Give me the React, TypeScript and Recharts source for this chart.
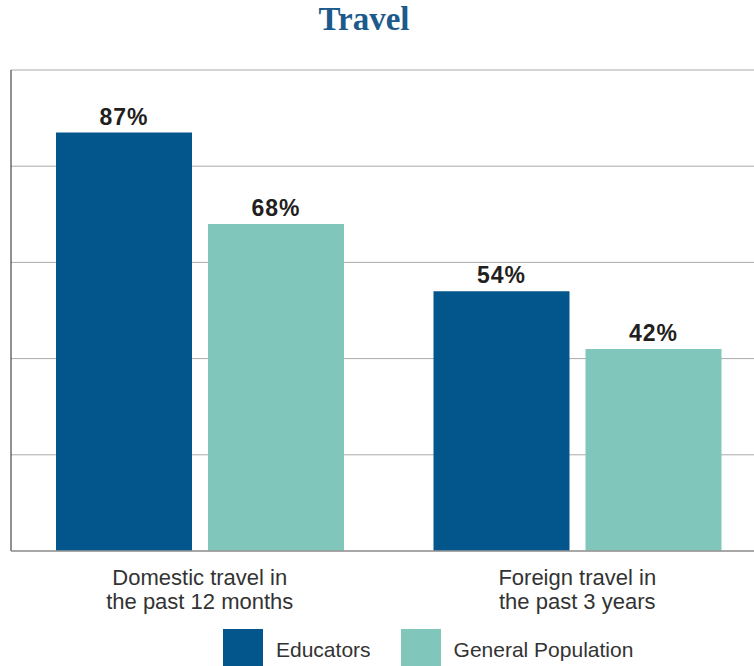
import { BarChart, Bar, XAxis, YAxis, CartesianGrid, LabelList } from 'recharts';

const categories = ['Domestic travel in\nthe past 12 months', 'Foreign travel in\nthe past 3 years'];
const educators = [87, 54];
const generalPopulation = [68, 42];
const yTicks = [0, 20, 40, 60, 80, 100];

const data = categories.map((name, i) => ({
  name,
  educators: educators[i],
  general: generalPopulation[i],
}));

const SERIES = [
  { key: 'educators', label: 'Educators', color: '#03568b' },
  { key: 'general', label: 'General Population', color: '#80c6ba' },
];

const SANS = '"Liberation Sans", Arial, Helvetica, sans-serif';

function CategoryTick(props: any) {
  const { x, y, payload } = props;
  const lines = String(payload.value).split('\n');
  return (
    <text x={x} y={y} textAnchor="middle" fill="#333" fontSize={22} fontFamily={SANS}>
      {lines.map((line, i) => (
        <tspan key={i} x={x} dy={i === 0 ? 26 : 24}>
          {line}
        </tspan>
      ))}
    </text>
  );
}

const NoTick = () => <g />;

export default function App() {
  return (
    <div
      style={{
        position: 'absolute',
        left: 0,
        top: 0,
        width: 754,
        height: 666,
        overflow: 'hidden',
        background: '#fff',
      }}
    >
      <div
        style={{
          position: 'absolute',
          top: 1,
          left: 0,
          width: 728,
          textAlign: 'center',
          fontFamily: '"Liberation Serif", "Times New Roman", serif',
          fontWeight: 'bold',
          fontSize: 33,
          color: '#1b5a8b',
        }}
      >
        Travel
      </div>
      <BarChart
        width={770}
        height={666}
        data={data}
        margin={{ top: 70, right: 4, bottom: 85, left: 10 }}
        barGap={16}
        barCategoryGap={45}
      >
        <CartesianGrid vertical={false} stroke="#aaa" strokeWidth={1} />
        <YAxis
          domain={[0, 100]}
          ticks={yTicks}
          width={1}
          tick={<NoTick />}
          tickLine={false}
          axisLine={{ stroke: '#222', strokeWidth: 1 }}
        />
        <XAxis
          dataKey="name"
          height={30}
          tickLine={false}
          axisLine={{ stroke: '#999', strokeWidth: 1.5 }}
          tick={<CategoryTick />}
          interval={0}
        />
        {SERIES.map((s) => (
          <Bar key={s.key} dataKey={s.key} name={s.label} fill={s.color} barSize={136} isAnimationActive={false}>
            <LabelList
              dataKey={s.key}
              position="top"
              offset={8}
              formatter={(v: any) => `${v}%`}
              fill="#231f20"
              fontSize={23}
              fontWeight="bold"
              fontFamily={SANS}
              letterSpacing={1}
            />
          </Bar>
        ))}
      </BarChart>
      <div
        style={{
          position: 'absolute',
          left: 223,
          top: 629,
          display: 'flex',
          alignItems: 'flex-start',
          fontFamily: SANS,
          fontSize: 21,
          color: '#333',
        }}
      >
        {SERIES.map((s, i) => (
          <div key={s.key} style={{ display: 'flex', alignItems: 'center', marginRight: i === 0 ? 30 : 0 }}>
            <span style={{ display: 'inline-block', width: 40, height: 38, background: s.color, marginRight: 13 }} />
            <span style={{ position: 'relative', top: 2 }}>{s.label}</span>
          </div>
        ))}
      </div>
    </div>
  );
}
